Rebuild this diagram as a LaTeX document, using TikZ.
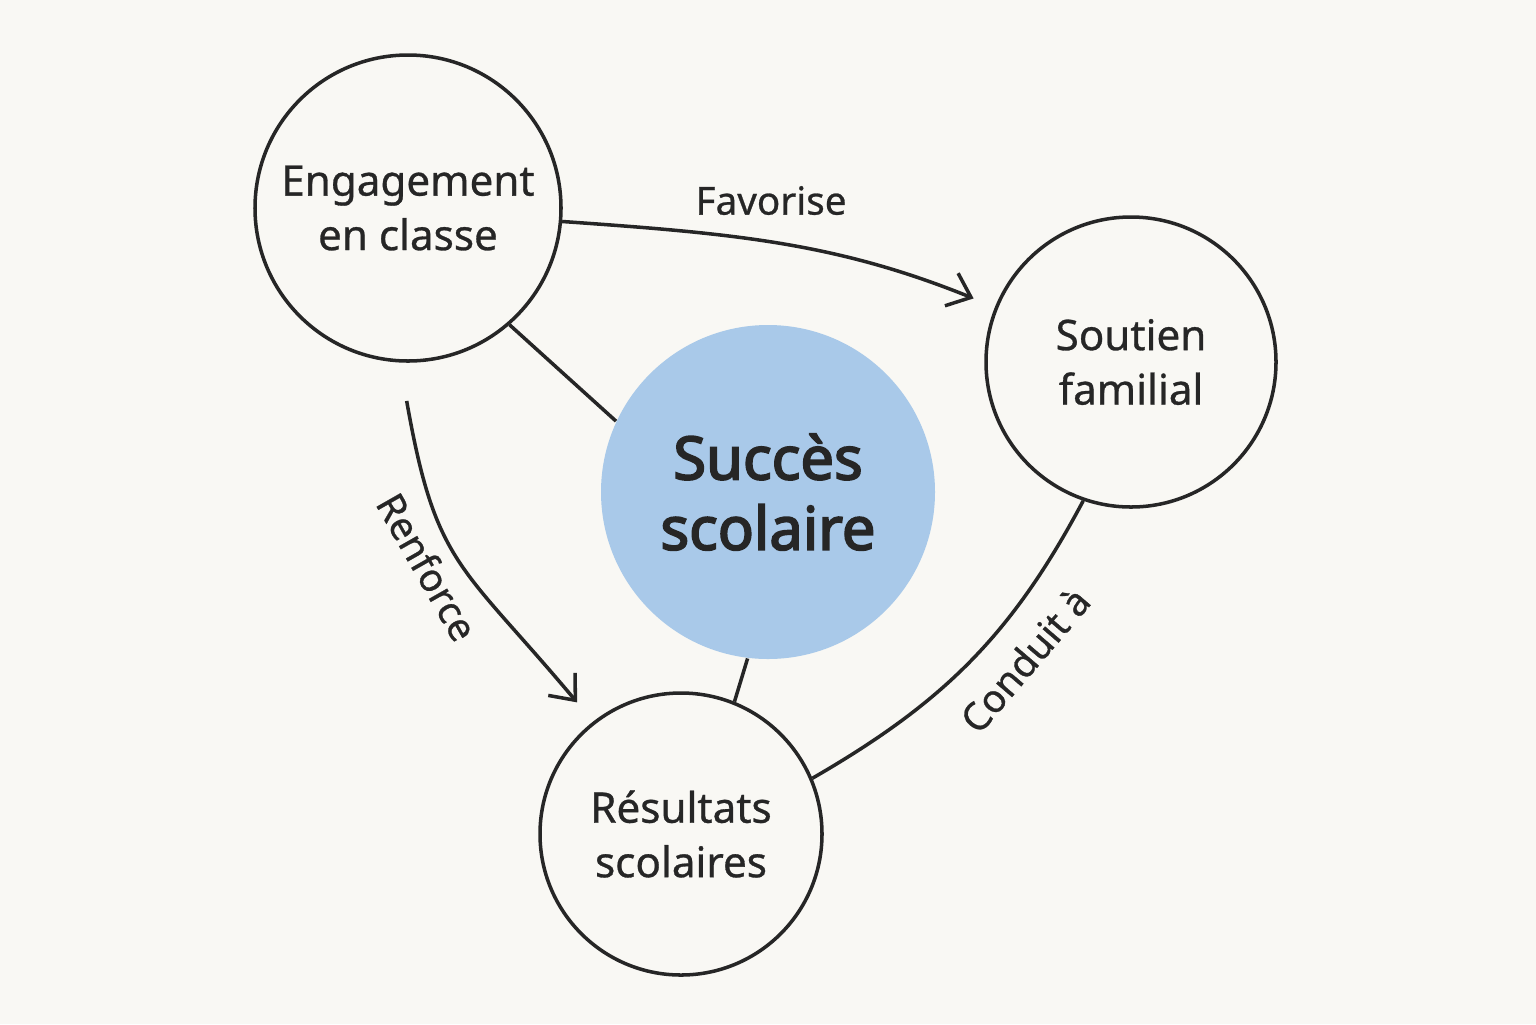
\documentclass[tikz,border=0pt]{standalone}
\usepackage{fontspec}
\setmainfont{Noto Sans}[AutoFakeBold=3]
\newfontfamily\medfont{Noto Sans}[FakeBold=0.7]
\usepackage{xcolor}
\usetikzlibrary{arrows.meta, positioning}
\definecolor{paper}{HTML}{F9F8F4}
\definecolor{ink}{HTML}{262626}
\definecolor{skyblue}{HTML}{A9C9E9}

\begin{document}
\begin{tikzpicture}[
        bubble/.style={circle, draw=ink, line width=1pt, text=ink, align=center, inner sep=0pt, font=\medfont\fontsize{12}{15.5}\selectfont},
        core/.style={circle, fill=skyblue, text=ink, align=center, inner sep=0pt, minimum size=3.34cm, font=\fontsize{17}{20}\selectfont\bfseries},
        line/.style={draw=ink, line width=1pt},
        flow/.style={line, -{Straight Barb[length=6pt, width=10pt, line width=1pt]}},
        lbl/.style={text=ink, font=\medfont\fontsize{11}{13}\selectfont}
    ]
        \fill [paper] (0,0) rectangle (15.36,-10.24);
        \useasboundingbox (0,0) rectangle (15.36,-10.24);

        \node [core] (succ) at (7.68,-4.92) {Succès\\scolaire};
        \node [bubble, minimum size=3.06cm] (eng) at (4.08,-2.08) {Engagement\\en classe};
        \node [bubble, minimum size=2.90cm] (sout) at (11.31,-3.62) {Soutien\\familial};
        \node [bubble, minimum size=2.82cm] (res) at (6.81,-8.34) {Résultats\\scolaires};

        \path [flow, shorten >=0.23cm] (eng.-5) to[out=-4, in=158] node[lbl, above=4pt, pos=0.47] {Favorise} (sout.158);
        \path [flow, shorten <=0.39cm, shorten >=0.25cm] (eng.-93) to[out=-80, in=130, looseness=1.3] node[lbl, sloped, below=1pt, pos=0.47] {Renforce} (res.128);
        \path [line] (res.23) to[out=30, in=-118] node[lbl, sloped, below=3pt, pos=0.6] {Conduit à} (sout.-109);
        \path [line] (eng.-49) -- (succ.155);
        \path [line] (succ.-97) -- (res.68);
    \end{tikzpicture}
\end{document}
